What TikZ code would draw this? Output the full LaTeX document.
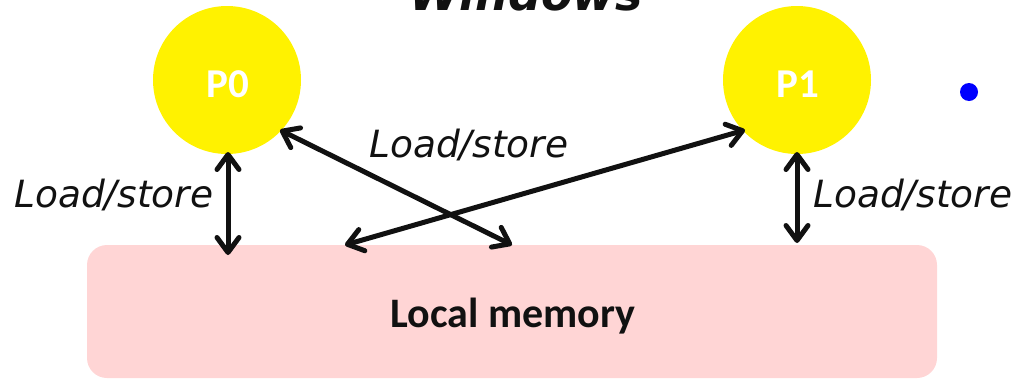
\documentclass[tikz,border=0pt]{standalone}
\usepackage{fontspec}
\setmainfont{DejaVu Sans}
\newfontfamily\carlito{Carlito}
\usetikzlibrary{arrows.meta}
\definecolor{memfill}{HTML}{FFD5D5}
\definecolor{ink}{HTML}{111111}
\tikzset{
  proc/.style={circle, fill=yellow, minimum size=148pt, inner sep=0pt},
  ptext/.style={anchor=base, inner sep=0pt, text=white, font=\carlito\bfseries\fontsize{41}{41}\selectfont},
  lbl/.style={anchor=base west, inner sep=0pt, text=ink, font=\itshape\fontsize{37.5}{37.5}\selectfont},
  conn/.style={ink, line width=5pt, {Straight Barb[length=15pt,width=22pt,line cap=round,line join=round]}-{Straight Barb[length=15pt,width=22pt,line cap=round,line join=round]}}
}
\begin{document}
\begin{tikzpicture}[x=1pt,y=-1pt]
\useasboundingbox (0,0) rectangle (1015,378);
\node[anchor=base, inner sep=0pt, text=ink, font=\bfseries\itshape\fontsize{46}{46}\selectfont] (title) at (526,10) {Windows};
\node[proc] (p0) at (227,80) {};
\node[proc] (p1) at (797,80) {};
\node[ptext] (p0t) at (228,97) {P0};
\node[ptext] (p1t) at (798,97) {P1};
\node[draw=none, fill=memfill, rounded corners=20pt, minimum width=850pt, minimum height=133pt, inner sep=0pt] (mem) at (512,311.5) {};
\node[anchor=base, inner sep=0pt, text=ink, font=\carlito\bfseries\fontsize{42}{42}\selectfont] (memt) at (513,327) {Local memory};
\fill[blue] (969,92) circle (9);
\coordinate (m1) at (228,255);
\coordinate (m2) at (797,243);
\coordinate (m3) at (512,245);
\coordinate (m4) at (345,245);
\coordinate (a0) at (228,152);
\coordinate (a1) at (797,152);
\coordinate (b0) at (280,130);
\coordinate (b1) at (745,130);
\draw[conn] (a0) -- (m1);
\draw[conn] (a1) -- (m2);
\draw[conn] (b0) -- (m3);
\draw[conn] (b1) -- (m4);
\node[lbl] (l1) at (14,207) {Load/store};
\node[lbl] (l2) at (369,157) {Load/store};
\node[lbl] (l3) at (813,207) {Load/store};
\end{tikzpicture}
\end{document}
